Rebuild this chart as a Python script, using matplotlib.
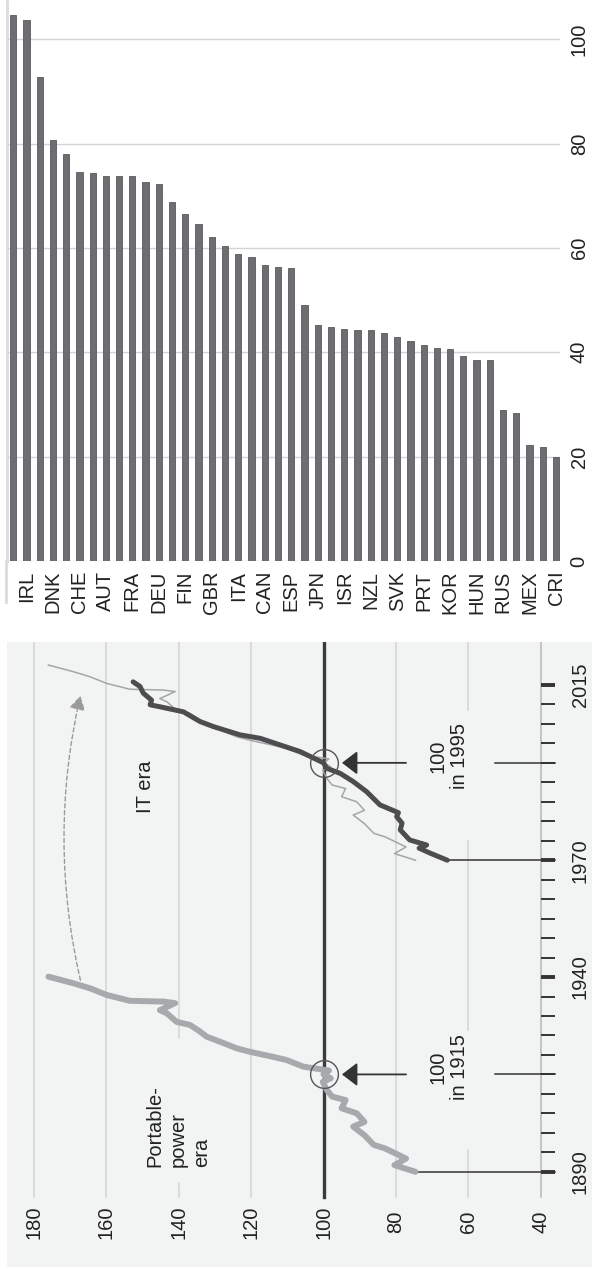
import numpy as np
import matplotlib
matplotlib.use("Agg")
import matplotlib.pyplot as plt
from matplotlib.patches import FancyArrowPatch
from matplotlib.lines import Line2D

plt.rcParams["font.family"] = ["Liberation Sans", "DejaVu Sans"]

# --- top panel: bar values, sorted high to low (every other bar is labelled)
bar_values = [104.6, 103.6, 92.7, 80.7, 78.0, 74.5, 74.4, 73.8, 73.7, 73.7,
              72.6, 72.2, 68.8, 66.5, 64.5, 62.1, 60.3, 58.9, 58.2, 56.8,
              56.4, 56.2, 49.0, 45.2, 44.8, 44.4, 44.2, 44.2, 43.7, 42.9,
              42.1, 41.4, 40.8, 40.6, 39.3, 38.5, 38.5, 28.9, 28.4, 22.3,
              21.9, 19.9]
countries = ["IRL", "DNK", "CHE", "AUT", "FRA", "DEU", "FIN", "GBR", "ITA",
             "CAN", "ESP", "JPN", "ISR", "NZL", "SVK", "PRT", "KOR", "HUN",
             "RUS", "MEX", "CRI"]
bar_ticks = [0, 20, 40, 60, 80, 100]

# --- bottom panel: index (=100 in anchor year)
pp_years = [1890.0, 1891.7, 1893.4, 1896.0, 1896.9, 1899.4, 1901.6, 1902.8,
            1905.0, 1906.3, 1908.4, 1909.3, 1911.0, 1913.1, 1914.0, 1915.0,
            1916.0, 1917.0, 1918.7, 1919.5, 1920.8, 1921.7, 1923.4, 1924.7,
            1926.0, 1927.7, 1928.5, 1930.7, 1931.5, 1933.3, 1933.7, 1933.9,
            1935.4, 1937.1, 1938.4, 1940.1]
pp_values = [74.6, 80.4, 77.2, 83.0, 86.1, 88.7, 91.8, 88.7,
             90.8, 95.0, 93.9, 97.6, 99.1, 100.2, 98.0, 100.0,
             98.5, 105.6, 110.2, 113.9, 120.3, 124.0, 128.6, 132.3,
             134.1, 136.9, 140.6, 143.3, 145.2, 141.0, 144.3, 153.5,
             159.9, 164.5, 169.1, 176.0]
it_years = [1970.0, 1971.8, 1973.1, 1973.9, 1975.2, 1977.8, 1979.5, 1981.2,
            1982.2, 1984.2, 1987.6, 1990.2, 1992.3, 1993.6, 1995.0, 1997.9,
            1999.6, 2001.3, 2002.2, 2004.3, 2005.6, 2008.1, 2009.4, 2009.9,
            2011.1, 2012.9, 2014.6, 2015.8]
it_values = [65.8, 70.5, 73.6, 71.5, 76.2, 78.8, 78.3, 79.8,
             79.3, 84.4, 88.1, 91.8, 95.4, 99.1, 100.0, 106.5,
             112.0, 117.5, 123.1, 130.4, 134.1, 138.7, 145.2, 147.9,
             147.5, 149.8, 150.7, 152.6]
era_shift = 80
index_ticks = [180, 160, 140, 120, 100, 80, 60, 40]
year_labels = [1890, 1940, 1970, 2015]
anchor_years = [1915, 1995]

W, H = 592, 1269
fig = plt.figure(figsize=(W / 100, H / 100), dpi=100)


def box(x0, y0, x1, y1):
    return [x0 / W, 1 - y1 / H, (x1 - x0) / W, (y1 - y0) / H]


FS = 14.5
DARK = "#333333"
TXT = "#222222"
GRID = "#d4d4d4"

# ---------------- bar chart ----------------
ax1 = fig.add_axes(box(7, 0, 560, 561))
pos = np.arange(len(bar_values))
ax1.bar(pos, bar_values, width=0.47, color="#6d6e71", edgecolor="#58595b",
        linewidth=0.6, zorder=3)
ax1.set_xlim(-0.468, 41.3)
ax1.set_ylim(0, 107.5)
ax1.set_yticks(bar_ticks)
ax1.yaxis.tick_right()
ax1.set_yticklabels([str(t) for t in bar_ticks], rotation=90, va="center",
                    fontsize=FS, color=TXT)
ax1.tick_params(axis="y", length=0, pad=7)
ax1.set_xticks(pos[1::2])
ax1.set_xticklabels(countries, rotation=90, fontsize=FS, color=TXT)
ax1.tick_params(axis="x", length=0, pad=7)
ax1.grid(axis="y", color=GRID, linewidth=1, zorder=0)
for s in ["top", "right", "bottom"]:
    ax1.spines[s].set_visible(False)
ax1.spines["left"].set_color("#dcdcdc")
ax1.spines["left"].set_linewidth(2)
fig.add_artist(Line2D([6 / W, 6 / W], [1 - 561 / H, 1 - 602 / H],
                      color="#dcdcdc", lw=2))

# ---------------- two eras chart ----------------
ax2 = fig.add_axes(box(7, 642, 592, 1267))
ax2.set_facecolor("#f2f3f3")
ax2.set_xlim(187.45, 25.82)
ax2.set_ylim(1865.55, 2026.03)
ax2.set_xticks([])
ax2.set_yticks([])
for s in ax2.spines.values():
    s.set_visible(False)

g_lo, g_hi = 1883.4, 2026.1
for v in index_ticks:
    ax2.text(v, 1877.1, str(v), rotation=90, ha="center", va="center",
             fontsize=FS, color=TXT)
    if v == 100:
        ax2.plot([v, v], [g_lo, g_hi], color="#3a3a3a", lw=2.4, zorder=2)
        continue
    if v == 60:
        segs = [(g_lo, anchor_years[0] - 19.5),
                (anchor_years[0] + 11.5, anchor_years[1] - 20),
                (anchor_years[1] + 13.5, g_hi)]
    elif v == 140:
        segs = [(g_lo, 1887.1), (1924.3, g_hi)]
    else:
        segs = [(g_lo, g_hi)]
    col = "#b8b8b8" if v == 40 else GRID
    for a, b in segs:
        ax2.plot([v, v], [a, b], color=col, lw=1.1, zorder=1)

# time axis ticks
for yr in range(1890, 2016, 5):
    major = yr in year_labels
    ax2.plot([40, 36.0], [yr, yr], color=DARK, lw=2.8 if major else 1.4,
             solid_capstyle="butt", zorder=3)
for yr in year_labels:
    ax2.text(29.1, yr, str(yr), rotation=90, ha="center", va="center",
             fontsize=FS, color=TXT)
for yr in anchor_years:
    ax2.plot([52.6, 36.0], [yr, yr], color=DARK, lw=1.1, zorder=3)
ax2.plot([pp_values[0], 36.0], [pp_years[0]] * 2, color=DARK, lw=1.1, zorder=3)
ax2.plot([it_values[0], 36.0], [it_years[0]] * 2, color=DARK, lw=1.1, zorder=3)

# the series
shifted = [y + era_shift for y in pp_years]
ax2.plot(pp_values, shifted, color="#a4a5a7", lw=1.1, zorder=4)
ax2.plot(pp_values, pp_years, color="#a7a9ac", lw=4.3, zorder=5,
         solid_joinstyle="round", solid_capstyle="round")
ax2.plot(it_values, it_years, color="#4d4d4f", lw=3.6, zorder=6,
         solid_joinstyle="round", solid_capstyle="round")

# anchors
for yr in anchor_years:
    ax2.plot(100, yr, "o", ms=20, mfc="none", mec="#555555", mew=1.0, zorder=7)
    ax2.annotate("", xy=(94.9, yr), xytext=(77.2, yr),
                 arrowprops=dict(arrowstyle="-|>,head_length=0.47,head_width=0.36",
                                 mutation_scale=20, lw=1.3, color=DARK,
                                 shrinkA=0, shrinkB=0), zorder=7)
    ax2.text(65.4, yr + 1.8, "100\nin %d" % yr, rotation=90, ha="center",
             va="center", multialignment="center", fontsize=FS,
             linespacing=1.2, color=TXT)

ax2.text(140.2, 1891.2, "Portable-\npower\nera", rotation=90, ha="center",
         va="bottom", multialignment="left", fontsize=FS, linespacing=1.3,
         color=TXT)
ax2.text(149.3, 1988.8, "IT era", rotation=90, ha="center", va="center",
         fontsize=FS, color=TXT)

shift_arrow = FancyArrowPatch((167.0, 1938.5), (167.0, 2012.9),
                              connectionstyle="arc3,rad=-0.117",
                              arrowstyle="-|>,head_length=0.6,head_width=0.35",
                              mutation_scale=14, lw=1.0, ls=(0, (3, 2)),
                              color="#9a9a9a", zorder=4)
ax2.add_patch(shift_arrow)

fig.savefig("out.png", dpi=100)
